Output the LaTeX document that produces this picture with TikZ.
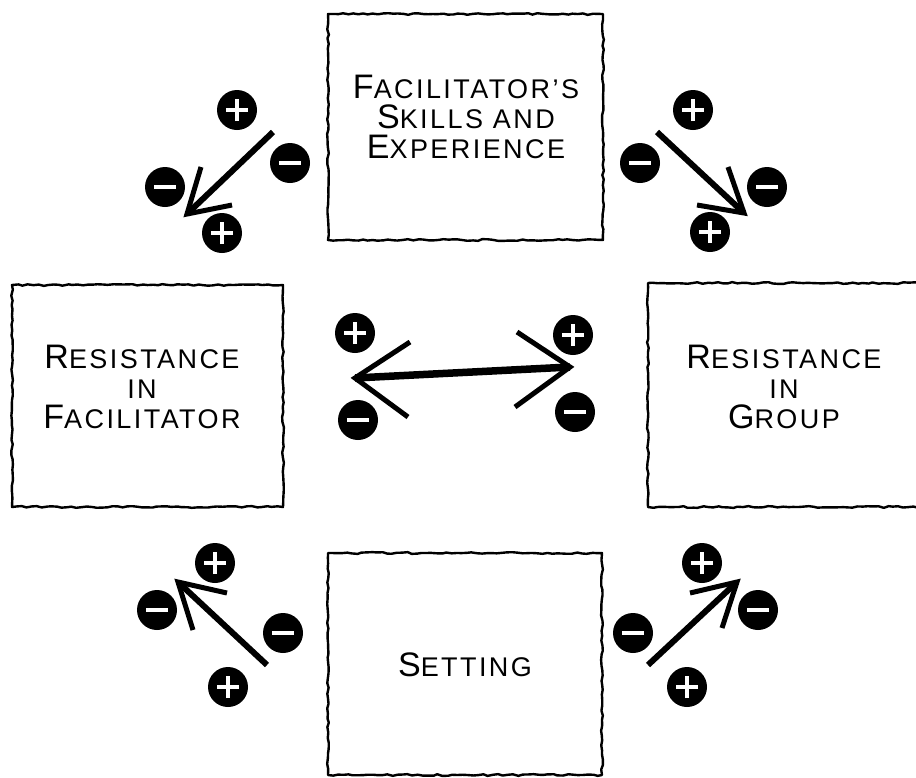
\documentclass[tikz,border=0pt]{standalone}
\usepackage{fontspec}
\setmainfont{Liberation Sans}
\usetikzlibrary{decorations.pathmorphing}
% first letter of a hand-lettered word, a size up
\newcommand\bigfirst[2]{{\fontsize{34}{30}\selectfont #1}#2}

\begin{document}
\begin{tikzpicture}[x=1pt,y=-1pt,
  sketchbox/.style={draw, line width=2.4pt, line join=round, inner sep=0pt,
    decorate, decoration={random steps, segment length=5pt, amplitude=0.9pt}},
  lettering/.style={align=center, inner sep=0pt,
    font=\fontsize{27}{30}\selectfont\addfontfeature{LetterSpace=9}},
  dot/.style={circle, fill=black, minimum size=40pt, inner sep=0pt},
  plusdot/.style={dot, path picture={
    \draw[white, line width=4.4pt]
      ([xshift=-11pt]path picture bounding box.center) -- ([xshift=11pt]path picture bounding box.center)
      ([yshift=-11pt]path picture bounding box.center) -- ([yshift=11pt]path picture bounding box.center);}},
  minusdot/.style={dot, path picture={
    \draw[white, line width=4.4pt]
      ([xshift=-11pt]path picture bounding box.center) -- ([xshift=11pt]path picture bounding box.center);}},
  shaft/.style={line width=6pt, line cap=butt},
  barb/.style={line width=5pt, line join=miter, miter limit=20, line cap=butt},
]
\useasboundingbox (0,0) rectangle (916,777);
\clip (0,0) rectangle (916,777);

% ---- the four factor boxes ----
\node[sketchbox, minimum width=275pt, minimum height=226pt] (skills)  at (465.5,127) {};
\node[sketchbox, minimum width=271pt, minimum height=222pt] (resfac)  at (147.5,396) {};
\node[sketchbox, minimum width=290pt, minimum height=224pt] (resgrp)  at (793,395) {};
\node[sketchbox, minimum width=274pt, minimum height=222pt] (setting) at (465,664) {};

\node[lettering] (skillstext) at (466,117)
  {\bigfirst{F}{ACILITATOR'S}\\\bigfirst{S}{KILLS AND}\\\bigfirst{E}{XPERIENCE}};
\node[lettering] (resfactext) at (142,387)
  {\bigfirst{R}{ESISTANCE}\\IN\\\bigfirst{F}{ACILITATOR}};
\node[lettering] (resgrptext) at (784,387)
  {\bigfirst{R}{ESISTANCE}\\IN\\\bigfirst{G}{ROUP}};
\node[lettering] (settingtext) at (465,665) {\bigfirst{S}{ETTING}};

% ---- upper left: arrow down-left ----
\node[plusdot]  (tlp1) at (237,110) {};
\node[minusdot] (tlm1) at (290,163) {};
\node[minusdot] (tlm2) at (165,187) {};
\node[plusdot]  (tlp2) at (222,233) {};
\coordinate (tlA) at (273,132);
\coordinate (tlB) at (187,214);
\coordinate (tlB1) at (201,167);
\coordinate (tlB2) at (232,205);
\draw[shaft] (tlA) -- (tlB);
\draw[barb] (tlB1) -- (tlB) -- (tlB2);

% ---- upper right: arrow down-right ----
\node[plusdot]  (trp1) at (693,110) {};
\node[minusdot] (trm1) at (640,163) {};
\node[minusdot] (trm2) at (767,187) {};
\node[plusdot]  (trp2) at (710,232) {};
\coordinate (trA) at (657,132);
\coordinate (trB) at (744,213);
\coordinate (trB1) at (728,167);
\coordinate (trB2) at (697,205);
\draw[shaft] (trA) -- (trB);
\draw[barb] (trB1) -- (trB) -- (trB2);

% ---- middle: double arrow ----
\node[plusdot]  (mlp) at (355,333) {};
\node[minusdot] (mlm) at (358,420) {};
\node[plusdot]  (mrp) at (573,335) {};
\node[minusdot] (mrm) at (575,412) {};
\coordinate (mL) at (355,378);
\coordinate (mR) at (570,367);
\coordinate (mL1) at (410,342);
\coordinate (mL2) at (408,417);
\coordinate (mR1) at (517,332);
\coordinate (mR2) at (515,407);
\draw[shaft, line width=7.5pt] (mL) -- (mR);
\draw[barb] (mL1) -- (mL) -- (mL2);
\draw[barb] (mR1) -- (mR) -- (mR2);

% ---- lower left: arrow up-left ----
\node[plusdot]  (blp1) at (215,563) {};
\node[minusdot] (blm1) at (157,610) {};
\node[minusdot] (blm2) at (283,633) {};
\node[plusdot]  (blp2) at (228,687) {};
\coordinate (blA) at (267,665);
\coordinate (blB) at (178,582);
\coordinate (blB1) at (227,593);
\coordinate (blB2) at (193,630);
\draw[shaft] (blA) -- (blB);
\draw[barb] (blB1) -- (blB) -- (blB2);

% ---- lower right: arrow up-right ----
\node[plusdot]  (brp1) at (702,563) {};
\node[minusdot] (brm1) at (758,610) {};
\node[minusdot] (brm2) at (633,633) {};
\node[plusdot]  (brp2) at (687,687) {};
\coordinate (brA) at (648,665);
\coordinate (brB) at (737,582);
\coordinate (brB1) at (690,593);
\coordinate (brB2) at (722,628);
\draw[shaft] (brA) -- (brB);
\draw[barb] (brB1) -- (brB) -- (brB2);
\end{tikzpicture}
\end{document}
